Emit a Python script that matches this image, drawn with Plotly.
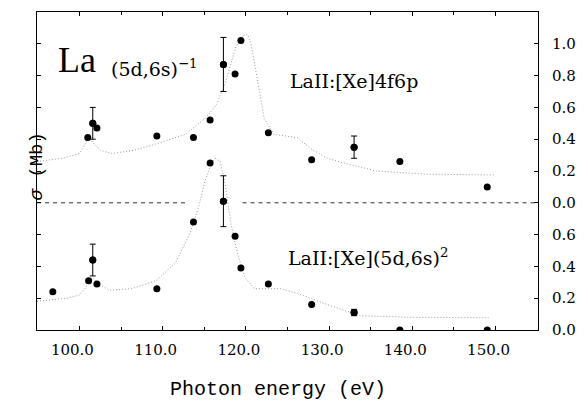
import plotly.graph_objects as go

# ---------------- data ----------------
# upper panel: LaII [Xe]4f6p  (photon energy eV, cross section Mb, error)
top_E = [101.0, 101.6, 102.1, 109.3, 113.7, 115.7, 117.3, 118.7, 119.4, 122.7, 127.9, 133.0, 138.5, 149.0]
top_y = [0.41, 0.50, 0.47, 0.42, 0.41, 0.52, 0.87, 0.81, 1.02, 0.44, 0.27, 0.35, 0.26, 0.10]
top_err = [0, 0.10, 0, 0, 0, 0, 0.17, 0, 0, 0, 0, 0.07, 0, 0]

# lower panel: LaII [Xe](5d,6s)^2
bot_E = [96.8, 101.1, 101.6, 102.1, 109.3, 113.7, 115.7, 117.3, 118.7, 119.4, 122.7, 127.9, 133.0, 138.5, 149.0]
bot_y = [0.24, 0.31, 0.44, 0.29, 0.26, 0.68, 1.05, 0.81, 0.59, 0.39, 0.29, 0.16, 0.11, 0.0, 0.0]
bot_err = [0, 0, 0.10, 0, 0, 0, 0, 0.16, 0, 0, 0, 0, 0.02, 0, 0]

# theory curves (dotted)
top_curve_E = [94.9, 98.0, 100.0, 100.6, 101.1, 101.6, 102.5, 103.9, 106.5, 109.2, 112.7, 115.1, 116.5,
               117.5, 118.8, 119.6, 120.2, 120.6, 121.3, 122.2, 123.4, 125.0, 126.2, 127.8, 129.8, 131.8,
               135.7, 141.7, 150.0]
top_curve_y = [0.26, 0.28, 0.31, 0.36, 0.42, 0.38, 0.33, 0.31, 0.33, 0.37, 0.43, 0.53, 0.62,
               0.75, 0.98, 1.05, 1.06, 1.00, 0.80, 0.53, 0.43, 0.42, 0.41, 0.34, 0.28, 0.25,
               0.20, 0.18, 0.175]

bot_curve_E = [94.9, 98.5, 100.0, 100.8, 101.5, 102.3, 103.6, 106.3, 109.2, 111.5, 113.3, 114.3, 115.1,
               115.8, 116.3, 116.9, 117.5, 118.2, 119.0, 119.9, 121.0, 122.5, 124.2, 126.2, 129.8,
               133.7, 139.6, 149.2]
bot_curve_y = [0.18, 0.20, 0.22, 0.27, 0.33, 0.29, 0.25, 0.26, 0.31, 0.42, 0.61, 0.77, 0.94,
               1.04, 1.08, 1.06, 0.92, 0.67, 0.48, 0.33, 0.26, 0.26, 0.26, 0.23, 0.16,
               0.09, 0.08, 0.077]

x_ticks = [100, 110, 120, 130, 140, 150]
x_ticktext = ["100.0", "110.0", "120.0", "130.0", "140.0", "150.0"]
x_minor = [95, 105, 115, 125, 135, 145, 155]
top_ticks = [0.0, 0.2, 0.4, 0.6, 0.8, 1.0]
top_ticktext = ["0.0", "0.2", "0.4", "0.6", "0.8", "1.0"]
bot_ticks = [0.0, 0.2, 0.4, 0.6]
bot_ticktext = ["0.0", "0.2", "0.4", "0.6"]

X_RANGE = [94.9, 155.1]
GAP = [113.1, 119.6]  # gap in the dashed separator line

SERIF = "DejaVu Serif"
MONO = "Liberation Mono"

fig = go.Figure()

curve_style = dict(color="#9a9a9a", width=1, dash="1px,2px")
marker_style = dict(color="black", size=7, line=dict(width=0))

# dotted theory curves
fig.add_trace(go.Scatter(x=bot_curve_E, y=bot_curve_y, mode="lines", line=curve_style,
                         yaxis="y", hoverinfo="skip"))
fig.add_trace(go.Scatter(x=top_curve_E, y=top_curve_y, mode="lines", line=curve_style,
                         yaxis="y2", hoverinfo="skip"))

# dashed separator (zero of the upper panel)
fig.add_trace(go.Scatter(x=[X_RANGE[0], GAP[0], None, GAP[1], X_RANGE[1]], y=[0, 0, None, 0, 0],
                         mode="lines", line=dict(color="#333333", width=1, dash="4px,4px"),
                         yaxis="y2", hoverinfo="skip", connectgaps=False))


def add_points(E, Y, ERR, axis):
    fig.add_trace(go.Scatter(x=E, y=Y, mode="markers", marker=marker_style, yaxis=axis))
    eE = [e for e, r in zip(E, ERR) if r > 0]
    eY = [v for v, r in zip(Y, ERR) if r > 0]
    eR = [r for r in ERR if r > 0]
    fig.add_trace(go.Scatter(x=eE, y=eY, mode="markers", marker=marker_style, yaxis=axis,
                             error_y=dict(type="data", array=eR, visible=True,
                                          color="black", thickness=1, width=3)))


add_points(bot_E, bot_y, bot_err, "y")
add_points(top_E, top_y, top_err, "y2")

axis_common = dict(
    showline=True, linecolor="black", linewidth=1, mirror="ticks",
    ticks="inside", tickcolor="black", ticklen=4, tickwidth=1,
    showgrid=False, zeroline=False,
    tickfont=dict(family=SERIF, size=15, color="black"),
)

fig.update_layout(
    width=587, height=414,
    margin=dict(l=37, r=44, t=11, b=84),
    paper_bgcolor="white", plot_bgcolor="white",
    showlegend=False,
    xaxis=dict(range=X_RANGE, tickvals=x_ticks, ticktext=x_ticktext,
               minor=dict(tickvals=x_minor, ticks="inside", ticklen=3, tickcolor="black"),
               ticklabelshift=-7, ticklabelstandoff=6, **axis_common),
    yaxis=dict(range=[0, 2.0], side="right", tickvals=bot_ticks, ticktext=bot_ticktext,
               ticklabelstandoff=10, **axis_common),
    yaxis2=dict(range=[-0.8, 1.2], side="right", overlaying="y", tickvals=top_ticks,
                ticktext=top_ticktext, ticklabelstandoff=10, **axis_common),
)

# annotations
fig.add_annotation(x=99.76, y=0.90, xref="x", yref="y2", text="La", showarrow=False,
                   font=dict(family="Liberation Serif", size=36, color="black"))
fig.add_annotation(x=103.6, y=0.85, xref="x", yref="y2", text="(5d,6s)<sup>−1</sup>",
                   showarrow=False, xanchor="left",
                   font=dict(family=SERIF, size=19, color="black"))
fig.add_annotation(x=125.0, y=0.765, xref="x", yref="y2", text="LaII:[Xe]4f6p",
                   showarrow=False, xanchor="left",
                   font=dict(family=SERIF, size=19, color="black"))
fig.add_annotation(x=124.8, y=0.46, xref="x", yref="y", text="LaII:[Xe](5d,6s)<sup>2</sup>",
                   showarrow=False, xanchor="left",
                   font=dict(family=SERIF, size=19, color="black"))
fig.add_annotation(x=0.482, y=-0.229, xref="paper", yref="paper", text="Photon energy (eV)",
                   showarrow=False, font=dict(family=MONO, size=20, color="black"))
fig.add_annotation(x=-0.026, y=0.514, xref="paper", yref="paper", text="<i>σ</i> (Mb)",
                   showarrow=False, textangle=-90,
                   font=dict(family=MONO, size=19, color="black"))

fig.write_html("out.html")
